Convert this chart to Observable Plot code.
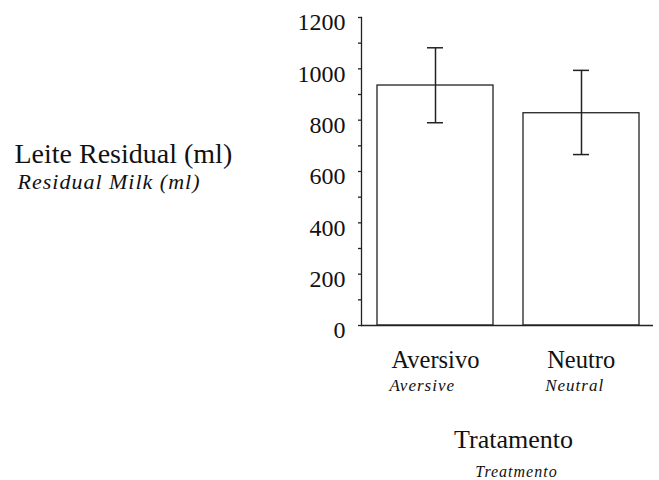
<!DOCTYPE html>
<html><head><meta charset="utf-8">
<script src="https://cdn.jsdelivr.net/npm/d3@7"></script>
<script src="https://cdn.jsdelivr.net/npm/@observablehq/plot@0.6"></script>
<style>body{margin:0;background:#fff} svg{display:block}</style>
</head><body><div id="chart"></div>
<script>
const categories = ["Aversivo", "Neutro"];
const categoriesEn = ["Aversive", "Neutral"];
const means = [935, 827];
const upper = [1082, 994];
const lower = [790, 666];
const yTicks = [0, 200, 400, 600, 800, 1000, 1200];
const yMinorTicks = [0, 100, 200, 300, 400, 500, 600, 700, 800, 900, 1000, 1100, 1200];
const yLabel = "Leite Residual (ml)";
const yLabelEn = "Residual Milk (ml)";
const xLabel = "Tratamento";
const xLabelEn = "Treatmento";

const rows = categories.map((c, i) => ({cat: c, en: categoriesEn[i], mean: means[i], hi: upper[i], lo: lower[i]}));
const serif = "'Liberation Serif', 'Times New Roman', serif";
const ctx = document.createElement("canvas").getContext("2d");
ctx.font = `24px ${serif}`;
const half = c => ctx.measureText(c).width / 2;
const ink = "#222";

const chart = Plot.plot({
  width: 659, height: 480,
  marginTop: 17, marginBottom: 155, marginLeft: 361, marginRight: 6,
  style: {fontFamily: serif, color: "#111", background: "#fff", overflow: "visible"},
  x: {domain: categories, range: [362, 654.7], paddingInner: 0.206, paddingOuter: 0.1, axis: null},
  y: {domain: [0, 1200], axis: null},
  marks: [
    Plot.axisY({ticks: yMinorTicks, tickSize: 3, text: null, stroke: ink, strokeWidth: 1.3}),
    Plot.axisY({ticks: yTicks, tickSize: 0, tickPadding: 16, fontSize: 24, dy: 5, fill: "#111", tickFormat: d => String(d)}),
    Plot.barY(rows, {x: "cat", y: "mean", fill: "white", stroke: ink, strokeWidth: 1.3}),
    Plot.ruleX(rows, {x: "cat", y1: "lo", y2: "hi", stroke: ink, strokeWidth: 1.5}),
    Plot.tickY(rows, {x: "cat", y: "hi", insetLeft: 50, insetRight: 50, stroke: ink, strokeWidth: 1.5}),
    Plot.tickY(rows, {x: "cat", y: "lo", insetLeft: 50, insetRight: 50, stroke: ink, strokeWidth: 1.5}),
    Plot.ruleY([0], {stroke: ink, strokeWidth: 1.3}),
    Plot.frame({anchor: "left", stroke: ink, strokeWidth: 1.3}),
    ...rows.map(r => Plot.text([r], {x: "cat", text: "cat", frameAnchor: "bottom", textAnchor: "start", lineAnchor: "bottom", dx: -half(r.cat) - 1, dy: 42, fontSize: 24.5, fill: "#111"})),
    ...rows.map(r => Plot.text([r], {x: "cat", text: "en", frameAnchor: "bottom", textAnchor: "start", lineAnchor: "bottom", dx: -half(r.cat) - 3, dy: 65, fontSize: 17, fontStyle: "italic", fill: "#111"})),
    Plot.text([yLabel], {frameAnchor: "top-left", textAnchor: "start", lineAnchor: "bottom", dx: -347, dy: 145, fontSize: 28, fill: "#111"}),
    Plot.text([yLabelEn], {frameAnchor: "top-left", textAnchor: "start", lineAnchor: "bottom", dx: -344, dy: 171, fontSize: 22, fontStyle: "italic", fill: "#111"}),
    Plot.text([xLabel], {frameAnchor: "bottom", lineAnchor: "bottom", dx: 6, dy: 122, fontSize: 26, fill: "#111"}),
    Plot.text([xLabelEn], {frameAnchor: "bottom", lineAnchor: "bottom", dx: 9, dy: 151, fontSize: 16, fontStyle: "italic", fill: "#111"})
  ]
});
d3.select(chart).selectAll("g[font-style=italic]").style("letter-spacing", "1px");
document.getElementById("chart").append(chart);
</script></body></html>
